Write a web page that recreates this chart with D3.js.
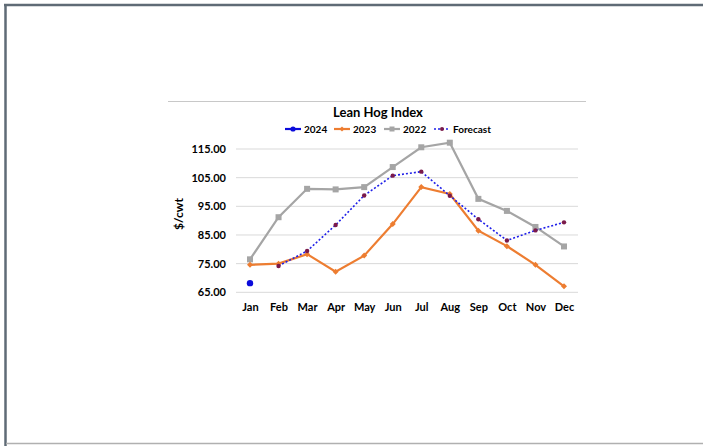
<!DOCTYPE html>
<html>
<head>
<meta charset="utf-8">
<script src="https://cdn.jsdelivr.net/npm/d3@7"></script>
<style>
  html, body { margin: 0; padding: 0; background: #fff; }
  svg { display: block; }
</style>
</head>
<body>
<svg id="chart" width="703" height="446"></svg>
<script>
// Lean hog index, $/cwt by month
const months = ["Jan","Feb","Mar","Apr","May","Jun","Jul","Aug","Sep","Oct","Nov","Dec"];
const yTicks = [65, 75, 85, 95, 105, 115];
const values2024 = [68.2, null, null, null, null, null, null, null, null, null, null, null];
const values2023 = [74.6, 75.0, 78.3, 72.2, 77.8, 88.8, 101.7, 99.3, 86.5, 81.1, 74.6, 67.1];
const values2022 = [76.5, 91.2, 101.1, 100.9, 101.7, 108.7, 115.6, 117.2, 97.6, 93.4, 87.8, 81.0];
const valuesForecast = [null, 74.2, 79.4, 88.5, 98.8, 105.7, 107.1, 98.7, 90.5, 83.1, 86.6, 89.4];

const svg = d3.select("#chart");
const font = "Lato, 'Liberation Sans', sans-serif";

// page frame
svg.append("line").attr("x1", 4).attr("x2", 703).attr("y1", 5).attr("y2", 5)
  .attr("stroke", "#5f6b76").attr("stroke-width", 2.5);
svg.append("line").attr("x1", 5.5).attr("x2", 5.5).attr("y1", 4).attr("y2", 446)
  .attr("stroke", "#5f6b76").attr("stroke-width", 2.5);
svg.append("line").attr("x1", 6).attr("x2", 703).attr("y1", 443.5).attr("y2", 443.5)
  .attr("stroke", "#b0b0b0").attr("stroke-width", 1.5);

// rule above the chart
svg.append("line").attr("x1", 168).attr("x2", 586).attr("y1", 101.5).attr("y2", 101.5)
  .attr("stroke", "#c8c8c8").attr("stroke-width", 1.2);

const x = d3.scalePoint().domain(months).range([250, 564]);
const y = d3.scaleLinear().domain([65, 115]).range([292.3, 149]);

// gridlines
svg.append("g").selectAll("line").data(yTicks).join("line")
  .attr("x1", 236).attr("x2", 578)
  .attr("y1", d => y(d)).attr("y2", d => y(d))
  .attr("stroke", "#d9d9d9").attr("stroke-width", 1);

// y axis labels
const yAxis = d3.axisLeft(y).tickValues(yTicks).tickFormat(d3.format(".2f")).tickSize(0).tickPadding(0);
const gy = svg.append("g").attr("transform", "translate(226,0)").call(yAxis);
gy.select(".domain").remove();
gy.selectAll("text").attr("font-family", font).attr("font-weight", "bold")
  .attr("font-size", 11).attr("fill", "#000");

// x axis labels
const xAxis = d3.axisBottom(x).tickSize(0).tickPadding(0);
const gx = svg.append("g").attr("transform", "translate(0,303.5)").call(xAxis);
gx.select(".domain").remove();
gx.selectAll("text").attr("font-family", font).attr("font-weight", "bold")
  .attr("font-size", 11).attr("fill", "#000");

// y axis title
svg.append("text").attr("transform", "translate(183,214) rotate(-90)")
  .attr("text-anchor", "middle").attr("font-family", font).attr("font-weight", "bold")
  .attr("font-size", 12).text("$/cwt");

// title
svg.append("text").attr("x", 378).attr("y", 117).attr("text-anchor", "middle")
  .attr("font-family", font).attr("font-weight", "bold").attr("font-size", 13).text("Lean Hog Index");

const line = d3.line().defined(d => d.v != null).x(d => x(d.m)).y(d => y(d.v));
const pts = arr => arr.map((v, i) => ({ m: months[i], v }));
const diamond = s => `M0,${-s}L${s},0L0,${s}L${-s},0Z`;

// 2022
const s22 = pts(values2022);
svg.append("path").datum(s22).attr("d", line).attr("fill", "none")
  .attr("stroke", "#a5a5a5").attr("stroke-width", 2.2);
svg.append("g").selectAll("rect").data(s22.filter(d => d.v != null)).join("rect")
  .attr("x", d => x(d.m) - 3).attr("y", d => y(d.v) - 3).attr("width", 6).attr("height", 6)
  .attr("fill", "#a5a5a5");

// 2023
const s23 = pts(values2023);
svg.append("path").datum(s23).attr("d", line).attr("fill", "none")
  .attr("stroke", "#ed7d31").attr("stroke-width", 2.2);
svg.append("g").selectAll("path").data(s23.filter(d => d.v != null)).join("path")
  .attr("d", diamond(3))
  .attr("transform", d => `translate(${x(d.m)},${y(d.v)})`).attr("fill", "#ed7d31");

// forecast
const sf = pts(valuesForecast);
svg.append("path").datum(sf).attr("d", line).attr("fill", "none")
  .attr("stroke", "#1f1fe8").attr("stroke-width", 1.6).attr("stroke-dasharray", "2,2");
svg.append("g").selectAll("circle").data(sf.filter(d => d.v != null)).join("circle")
  .attr("cx", d => x(d.m)).attr("cy", d => y(d.v)).attr("r", 2.2).attr("fill", "#7a1a4a");

// 2024
const s24 = pts(values2024);
svg.append("path").datum(s24).attr("d", line).attr("fill", "none")
  .attr("stroke", "#0b0bdb").attr("stroke-width", 2.2);
svg.append("g").selectAll("circle").data(s24.filter(d => d.v != null)).join("circle")
  .attr("cx", d => x(d.m)).attr("cy", d => y(d.v)).attr("r", 3.2).attr("fill", "#0b0bdb");

// legend
const legendItems = [
  { label: "2024", x: 285, color: "#0b0bdb", kind: "circle" },
  { label: "2023", x: 334, color: "#ed7d31", kind: "diamond" },
  { label: "2022", x: 384, color: "#a5a5a5", kind: "square" },
  { label: "Forecast", x: 434, color: "#1f1fe8", kind: "forecast" }
];
const ly = 129;
const lg = svg.append("g");
legendItems.forEach(it => {
  const g = lg.append("g");
  const ln = g.append("line").attr("x1", it.x).attr("x2", it.x + 16).attr("y1", ly).attr("y2", ly)
    .attr("stroke", it.color).attr("stroke-width", it.kind === "forecast" ? 1.6 : 2.2);
  if (it.kind === "forecast") ln.attr("stroke-dasharray", "2,2");
  const cx = it.x + 8;
  if (it.kind === "circle") g.append("circle").attr("cx", cx).attr("cy", ly).attr("r", 2.6).attr("fill", it.color);
  if (it.kind === "diamond") g.append("path").attr("d", diamond(2.6)).attr("transform", `translate(${cx},${ly})`).attr("fill", it.color);
  if (it.kind === "square") g.append("rect").attr("x", cx - 2.5).attr("y", ly - 2.5).attr("width", 5).attr("height", 5).attr("fill", it.color);
  if (it.kind === "forecast") g.append("circle").attr("cx", cx).attr("cy", ly).attr("r", 2).attr("fill", "#7a1a4a");
  g.append("text").attr("x", it.x + 19).attr("y", ly + 3.8).attr("font-family", font)
    .attr("font-weight", "bold").attr("font-size", 10).text(it.label);
});
</script>
</body>
</html>
